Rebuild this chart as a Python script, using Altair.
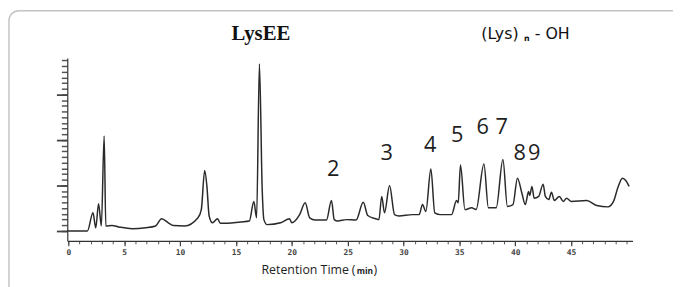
import altair as alt
import pandas as pd

# Retention time (min) and detector signal (arbitrary units)
time_min = [-0.1, 1.7, 2.2, 2.45, 2.7, 2.95, 3.2, 3.35, 3.9, 4.5, 5.7, 6.9, 7.8, 8.35, 8.95,
            9.4, 10.4, 11.6, 11.9, 12.2, 12.4, 12.6, 12.9, 13.35, 13.6, 14.25, 15.4, 16.2,
            16.6, 16.85, 17.1, 17.35, 17.5, 17.8, 19.0, 19.8, 20.0, 20.7, 21.2, 21.6, 22.1,
            23.1, 23.55, 23.8, 24.1, 24.9, 25.75, 26.4, 26.8, 27.5, 27.8, 28.05, 28.3, 28.75,
            29.2, 29.6, 30.8, 31.4, 31.7, 32.0, 32.45, 32.8, 33.3, 34.3, 34.75, 34.9, 35.1,
            35.5, 36.1, 36.5, 37.2, 37.6, 38.3, 38.9, 39.3, 39.8, 40.2, 40.6, 40.9, 41.2,
            41.3, 41.5, 41.7, 42.1, 42.5, 42.7, 43.0, 43.25, 43.5, 43.95, 44.3, 44.6, 45.0,
            46.4, 47.3, 48.3, 48.8, 49.2, 49.6, 49.9, 50.2]
signal = [0.0, 0.0, 0.40, 0.07, 0.60, 0.11, 2.09, 0.11, 0.12, 0.09, 0.05, 0.07, 0.11, 0.27, 0.18,
          0.12, 0.11, 0.29, 0.47, 1.33, 0.98, 0.33, 0.18, 0.27, 0.17, 0.17, 0.20, 0.22,
          0.65, 0.29, 3.67, 0.91, 0.25, 0.14, 0.18, 0.27, 0.18, 0.36, 0.62, 0.29, 0.24,
          0.24, 0.67, 0.25, 0.22, 0.25, 0.24, 0.63, 0.34, 0.27, 0.25, 0.76, 0.40, 1.00,
          0.36, 0.33, 0.36, 0.36, 0.58, 0.43, 1.36, 0.40, 0.36, 0.36, 0.67, 0.62, 1.45,
          0.47, 0.51, 0.47, 1.47, 0.51, 0.51, 1.57, 0.54, 0.58, 1.16, 0.83, 0.58, 0.87,
          0.78, 0.98, 0.72, 0.76, 1.03, 0.76, 0.69, 0.85, 0.67, 0.76, 0.65, 0.72, 0.65,
          0.67, 0.56, 0.53, 0.65, 0.96, 1.16, 1.11, 0.98]

# Oligomer peak labels (n) and where they sit
peak_labels = ["2", "3", "4", "5", "6", "7", "8", "9"]
peak_label_time = [23.7, 28.5, 32.4, 34.8, 37.1, 38.8, 40.4, 41.7]
peak_label_signal = [1.35, 1.72, 1.89, 2.11, 2.28, 2.28, 1.72, 1.72]

x_minor_ticks = list(range(0, 51))
x_major_ticks = list(range(0, 50, 5))
y_minor_ticks = [i * 0.125 for i in range(0, 31)]
y_major_ticks = [0, 1, 2, 3]

trace = pd.DataFrame({"t": time_min, "s": signal})
labels = pd.DataFrame({"t": peak_label_time, "s": peak_label_signal, "lab": peak_labels})

X_SCALE = alt.Scale(domain=[-0.1, 50.5], nice=False, zero=False)
Y_SCALE = alt.Scale(domain=[-0.217, 3.8], nice=False, zero=False)

line = alt.Chart(trace).mark_line(color="#2a2a2a", strokeWidth=1.5, interpolate="monotone").encode(
    x=alt.X("t:Q", scale=X_SCALE,
            axis=alt.Axis(title="", orient="bottom", values=x_minor_ticks, grid=False,
                          labels=False, domainColor="#333", domainWidth=1.2,
                          tickColor="#555", tickWidth=1, tickSize=3)),
    y=alt.Y("s:Q", scale=Y_SCALE,
            axis=alt.Axis(title="", orient="left", values=y_minor_ticks, grid=False,
                          labels=False, domainColor="#333", domainWidth=1.2,
                          tickColor="#555", tickWidth=1.5, tickSize=6)),
)

major_axes = alt.Chart(trace).mark_line(opacity=0).encode(
    x=alt.X("t:Q", scale=X_SCALE,
            axis=alt.Axis(title="", orient="bottom", values=x_major_ticks, grid=False,
                          labelOverlap=False, labelFont="DejaVu Sans Mono", labelFontSize=8,
                          labelFontWeight="bold", labelColor="#444", labelPadding=3,
                          domain=False, tickColor="#444", tickWidth=1.2, tickSize=5)),
    y=alt.Y("s:Q", scale=Y_SCALE,
            axis=alt.Axis(title="", orient="left", values=y_major_ticks, grid=False,
                          labels=False, domain=False, tickColor="#444", tickWidth=1.8,
                          tickSize=11)),
)

peak_text = alt.Chart(labels).mark_text(font="Open Sans", fontSize=22, color="#1e1e1e",
                                        baseline="middle", align="center").encode(
    x=alt.X("t:Q", scale=X_SCALE, axis=None),
    y=alt.Y("s:Q", scale=Y_SCALE, axis=None),
    text="lab:N")

one = pd.DataFrame({"k": [0]})


def txt(text, px, py, **kw):
    return alt.Chart(one).mark_text(text=text, **kw).encode(x=alt.value(px), y=alt.value(py))


title_lys = txt("LysEE", 196, -24, font="Liberation Serif", fontWeight="bold", fontSize=21,
                color="#111", align="center", baseline="middle")
t1 = txt("(Lys)", 419, -24, font="DejaVu Sans", fontSize=16, color="#111", align="left",
         baseline="middle")
t2 = txt("n", 465, -19, font="DejaVu Sans", fontWeight="bold", fontSize=8, color="#111",
         align="center", baseline="middle")
t3 = txt("- OH", 473, -24, font="DejaVu Sans", fontSize=16, color="#111", align="left",
         baseline="middle")

xt1 = txt("Retention Time", 285, 215, font="Open Sans", fontSize=12.5, color="#222",
          align="right", baseline="middle")
xt2 = txt("(", 288, 215, font="Open Sans", fontSize=12.5, color="#222", align="left",
          baseline="middle")
xt3 = txt("min", 293, 216, font="Open Sans", fontWeight="bold", fontSize=8.5, color="#222",
          align="left", baseline="middle")
xt4 = txt(")", 310, 215, font="Open Sans", fontSize=12.5, color="#222", align="left",
          baseline="middle")

border = alt.Chart(one).mark_rect(filled=False, stroke="#c4c4c4", strokeWidth=1.5,
                                  cornerRadius=10).encode(
    x=alt.value(-59), y=alt.value(-48), x2=alt.value(700), y2=alt.value(400))

chart = alt.layer(border, line, major_axes, peak_text, title_lys, t1, t2, t3,
                  xt1, xt2, xt3, xt4).resolve_axis(x="independent", y="independent").properties(
    width=572, height=185,
    autosize=alt.AutoSizeParams(type="none"),
    padding={"left": 60, "top": 49, "right": 41, "bottom": 45},
).configure_view(stroke=None)

chart.save("out.html", embed_options={"renderer": "svg", "actions": False})
